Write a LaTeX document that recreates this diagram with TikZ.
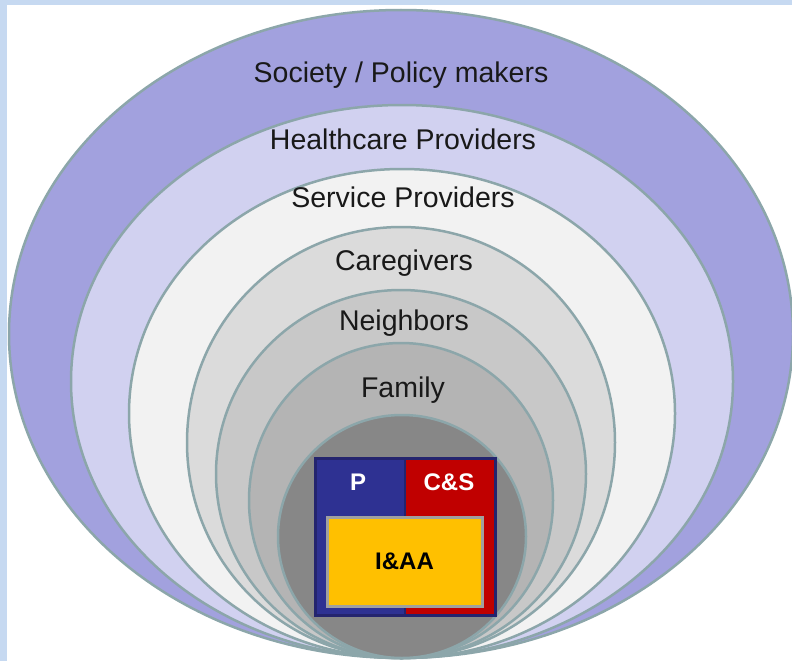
\documentclass[tikz,border=0pt]{standalone}
\usepackage{fontspec}
\setmainfont{Liberation Sans}
\usetikzlibrary{shapes.geometric}
\definecolor{bgblue}{RGB}{198,217,241}
\definecolor{ringline}{RGB}{140,166,170}
\definecolor{cSociety}{RGB}{162,161,222}
\definecolor{cHealth}{RGB}{209,209,240}
\definecolor{cService}{RGB}{242,242,242}
\definecolor{cCare}{RGB}{219,219,219}
\definecolor{cNeigh}{RGB}{200,200,200}
\definecolor{cFamily}{RGB}{180,180,180}
\definecolor{cCore}{RGB}{135,135,135}
\definecolor{pblue}{RGB}{46,49,146}
\definecolor{navy}{RGB}{36,36,110}
\definecolor{csred}{RGB}{192,0,0}
\definecolor{iaayellow}{RGB}{255,192,0}
\definecolor{iaaborder}{RGB}{160,160,160}
\tikzset{
  ring/.style={ellipse, draw=ringline, line width=2.5pt, inner sep=0pt, outer sep=0pt},
  lbl/.style={anchor=base, font=\fontsize{28.5}{30}\selectfont, text=black!90, inner sep=0pt},
  boxlbl/.style={font=\fontsize{24}{26}\selectfont\bfseries, inner sep=0pt},
}
\begin{document}
\begin{tikzpicture}[x=1pt,y=-1pt]
\useasboundingbox (0,0) rectangle (792,661);
\fill[bgblue] (0,0) rectangle (792,661);
\fill[white] (7,5) rectangle (792,661);
\begin{scope}
\clip (7,5) rectangle (792,661);
\node[ring, fill=cSociety, minimum width=784pt, minimum height=648pt] (society) at (401,334) {};
\node[ring, fill=cHealth, minimum width=662pt, minimum height=553pt] (health) at (402,381.5) {};
\node[ring, fill=cService, minimum width=546pt, minimum height=489pt] (service) at (402,413.5) {};
\node[ring, fill=cCare, minimum width=428pt, minimum height=431pt] (care) at (401,442.5) {};
\node[ring, fill=cNeigh, minimum width=370pt, minimum height=368pt] (neigh) at (401,474) {};
\node[ring, fill=cFamily, minimum width=304pt, minimum height=315pt] (family) at (401,500.5) {};
\node[ring, fill=cCore, minimum width=248pt, minimum height=243pt] (core) at (402,536.5) {};
\end{scope}
\node[lbl] (tSociety) at (401,82) {Society / Policy makers};
\node[lbl] (tHealth) at (403,149) {Healthcare Providers};
\node[lbl] (tService) at (403,207.5) {Service Providers};
\node[lbl] (tCare) at (404,270) {Caregivers};
\node[lbl] (tNeigh) at (404,330) {Neighbors};
\node[lbl] (tFamily) at (403,397) {Family};
% central box
\fill[pblue] (315,458) rectangle (405,615);
\fill[csred] (405,458) rectangle (495,615);
\draw[navy, line width=3pt] (315,458) rectangle (495,615);
\draw[navy, line width=2pt] (405,458) -- (405,615);
\node[boxlbl, text=white] (tP) at (358,482) {P};
\node[boxlbl, text=white] (tCS) at (449,482) {C\&S};
\node[draw=iaaborder, line width=3pt, fill=iaayellow, minimum width=155pt, minimum height=89pt, inner sep=0pt] (iaa) at (404.5,561.5) {};
\node[boxlbl, text=black] (tIAA) at (iaa) {I\&AA};
\end{tikzpicture}
\end{document}
